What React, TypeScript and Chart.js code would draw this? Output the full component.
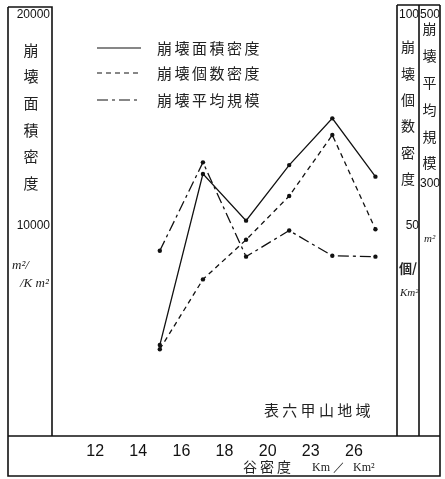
import { useEffect, useRef } from 'react';
import { Chart, registerables } from 'chart.js';

Chart.register(...registerables);

// ---- data ----
const xTickLabels = ['12', '14', '16', '18', '20', '23', '26'];
const classPositions = [1.5, 2.5, 3.5, 4.5, 5.5, 6.5];
const areaDensity = [4320, 12450, 10230, 12870, 15090, 12320];
const countDensity = [20.6, 37.2, 46.6, 57.0, 71.5, 49.1];
const avgScale = [220, 325, 213, 244, 214, 213];
const seriesNames = ['崩壊面積密度', '崩壊個数密度', '崩壊平均規模'];
const areaTicks = [10000, 20000];
const countTicks = [50, 100];
const avgTicks = [300, 500];
const areaTitle = '崩壊面積密度';
const countTitle = '崩壊個数密度';
const avgTitle = '崩壊平均規模';
const xTitle = '谷密度';
const regionNote = '表六甲山地域';

const CJK = '"Noto Sans CJK JP"';
const NUM = '"Liberation Sans"';
const INK = '#111';

function drawVertical(ctx: CanvasRenderingContext2D, text: string, x: number, y0: number, step: number, size: number) {
  ctx.save();
  ctx.font = `${size}px ${CJK}`;
  ctx.fillStyle = '#222';
  ctx.textAlign = 'center';
  ctx.textBaseline = 'middle';
  Array.from(text).forEach((c, i) => ctx.fillText(c, x, y0 + i * step));
  ctx.restore();
}

function drawSpaced(ctx: CanvasRenderingContext2D, text: string, x0: number, y: number, step: number, size: number) {
  ctx.save();
  ctx.font = `${size}px ${CJK}`;
  ctx.fillStyle = '#222';
  ctx.textAlign = 'left';
  ctx.textBaseline = 'middle';
  Array.from(text).forEach((c, i) => ctx.fillText(c, x0 + i * step, y));
  ctx.restore();
}

const framePlugin = {
  id: 'frame',
  afterDraw(chart: any) {
    const ctx: CanvasRenderingContext2D = chart.ctx;
    const ca = chart.chartArea;
    const yA = chart.scales.yArea;
    const yC = chart.scales.yCount;
    const yV = chart.scales.yAvg;
    const xs = chart.scales.x;
    const L = yA.left;
    const R = yV.right;
    const B = xs.bottom - 1;
    const T = ca.top - 8;
    ctx.save();
    ctx.strokeStyle = INK;
    ctx.lineWidth = 1.6;
    ctx.beginPath();
    // outer border left, bottom, right
    ctx.moveTo(L, T); ctx.lineTo(L, B); ctx.lineTo(R, B); ctx.lineTo(R, T - 2);
    // left panel
    ctx.moveTo(L, T); ctx.lineTo(ca.left, T); ctx.lineTo(ca.left, ca.bottom);
    // right panels
    ctx.moveTo(ca.right, T - 2); ctx.lineTo(R, T - 2);
    ctx.moveTo(ca.right, T - 2); ctx.lineTo(ca.right, ca.bottom);
    ctx.moveTo(yC.right, T - 2); ctx.lineTo(yC.right, ca.bottom);
    // x-axis separator
    ctx.moveTo(L, ca.bottom); ctx.lineTo(R, ca.bottom);
    ctx.stroke();

    // axis titles (vertical)
    drawVertical(ctx, areaTitle, (L + ca.left) / 2 + 1, 50, 26.6, 15);
    drawVertical(ctx, countTitle, (ca.right + yC.right) / 2, 47, 26.3, 14);
    drawVertical(ctx, avgTitle, (yC.right + R) / 2, 29, 26.8, 14);

    // units
    ctx.fillStyle = '#222';
    ctx.textBaseline = 'middle';
    ctx.textAlign = 'left';
    ctx.font = `italic 13px "Liberation Serif"`;
    ctx.fillText('m²/', L + 4, 266);
    ctx.fillText('/K m²', L + 12, 284);
    ctx.font = `bold 13px ${CJK}`;
    ctx.fillText('個/', ca.right + 2, 268);
    ctx.font = `italic 11px "Liberation Serif"`;
    ctx.fillText('Km²', ca.right + 3, 293);
    ctx.fillText('m²', yC.right + 5, 239);

    // legend
    const legendY = [48, 73, 100];
    chart.data.datasets.forEach((ds: any, i: number) => {
      ctx.save();
      ctx.strokeStyle = INK;
      ctx.lineWidth = 1.2;
      ctx.setLineDash(ds.borderDash || []);
      ctx.beginPath();
      ctx.moveTo(97, legendY[i]);
      ctx.lineTo(141, legendY[i]);
      ctx.stroke();
      ctx.restore();
      drawSpaced(ctx, ds.label, 157, legendY[i], 17.5, 15);
    });

    // region note
    drawSpaced(ctx, regionNote, 264, 410, 18.3, 15);

    // x axis title
    drawSpaced(ctx, xTitle, 243, 467, 17, 14);
    ctx.fillStyle = '#222';
    ctx.font = `12px "Liberation Serif"`;
    ctx.textAlign = 'left';
    ctx.textBaseline = 'middle';
    ctx.fillText('Km', 312, 468);
    ctx.fillText('／', 333, 468);
    ctx.fillText('Km²', 353, 468);
    ctx.restore();
  },
};

export default function App() {
  const ref = useRef<HTMLCanvasElement | null>(null);

  useEffect(() => {
    if (!ref.current) return;
    const pts = (vals: number[]) => vals.map((v, i) => ({ x: classPositions[i], y: v }));
    const common = {
      borderColor: INK,
      backgroundColor: INK,
      borderWidth: 1.3,
      pointRadius: 2.2,
      pointBackgroundColor: INK,
      pointBorderWidth: 0,
      tension: 0,
      fill: false,
    };
    const tickFont = { family: NUM, size: 12 };
    const noGrid = { display: false, drawTicks: false };
    const chart = new Chart(ref.current, {
      type: 'line',
      data: {
        datasets: [
          { ...common, label: seriesNames[0], data: pts(areaDensity), yAxisID: 'yArea', borderDash: [] },
          { ...common, label: seriesNames[1], data: pts(countDensity), yAxisID: 'yCount', borderDash: [5, 4] },
          { ...common, label: seriesNames[2], data: pts(avgScale), yAxisID: 'yAvg', borderDash: [11, 4, 3, 4] },
        ],
      },
      options: {
        animation: false,
        responsive: false,
        layout: { padding: { left: 8, right: 5, top: 15, bottom: 2 } },
        plugins: { legend: { display: false }, tooltip: { enabled: false } },
        scales: {
          x: {
            type: 'linear',
            min: -1,
            max: 7,
            position: 'bottom',
            grid: noGrid,
            border: { display: false },
            afterBuildTicks: (s: any) => { s.ticks = xTickLabels.map((_, i) => ({ value: i })); },
            afterFit: (s: any) => { s.height = 41; },
            ticks: {
              autoSkip: false,
              maxRotation: 0,
              padding: 6,
              color: INK,
              font: { family: NUM, size: 16 },
              callback: (v: any) => xTickLabels[Number(v)] ?? '',
            },
          },
          yArea: {
            type: 'linear',
            position: 'left',
            min: 0,
            max: 20000,
            grid: noGrid,
            border: { display: false },
            afterBuildTicks: (s: any) => { s.ticks = areaTicks.map((v) => ({ value: v })); },
            afterFit: (s: any) => { s.width = 44; },
            ticks: { padding: 2, color: INK, font: tickFont, callback: (v: any) => String(v) },
          },
          yCount: {
            type: 'linear',
            position: 'right',
            min: 0,
            max: 100,
            grid: noGrid,
            border: { display: false },
            afterBuildTicks: (s: any) => { s.ticks = countTicks.map((v) => ({ value: v })); },
            afterFit: (s: any) => { s.width = 22; },
            ticks: { padding: 1, crossAlign: 'far', color: INK, font: tickFont, callback: (v: any) => String(v) },
          },
          yAvg: {
            type: 'linear',
            position: 'right',
            min: 0,
            max: 500,
            grid: noGrid,
            border: { display: false },
            afterBuildTicks: (s: any) => { s.ticks = avgTicks.map((v) => ({ value: v })); },
            afterFit: (s: any) => { s.width = 21; },
            ticks: { padding: 1, crossAlign: 'far', color: INK, font: tickFont, callback: (v: any) => String(v) },
          },
        },
      },
      plugins: [framePlugin],
    } as any);
    return () => chart.destroy();
  }, []);

  return (
    <div style={{ position: 'absolute', left: 0, top: 0, width: 445, height: 479, background: '#fff' }}>
      <canvas ref={ref} width={445} height={479} style={{ display: 'block' }} />
    </div>
  );
}
